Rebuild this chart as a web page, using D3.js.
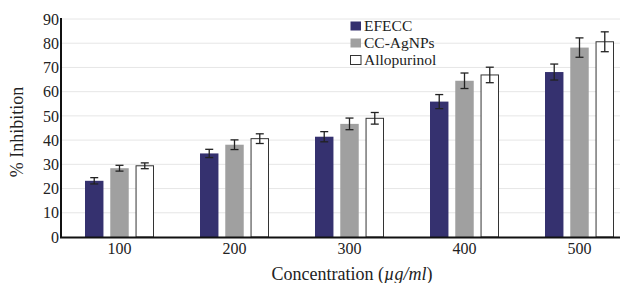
<!DOCTYPE html>
<html>
<head>
<meta charset="utf-8">
<script src="https://cdn.jsdelivr.net/npm/d3@7"></script>
<style>
  html, body { margin: 0; padding: 0; background: #fff; }
  svg { display: block; }
  svg text { fill: #222; }
</style>
</head>
<body>
<svg id="chart" width="622" height="283"></svg>
<script>
const categories = ["100", "200", "300", "400", "500"];
const seriesNames = ["EFECC", "CC-AgNPs", "Allopurinol"];
const efecc = [23.2, 34.5, 41.4, 55.9, 68.1];
const efeccErr = [1.3, 1.7, 2.1, 2.9, 3.3];
const ccAgNPs = [28.4, 38.1, 46.7, 64.5, 78.2];
const ccAgNPsErr = [1.2, 2.0, 2.4, 3.2, 4.0];
const allopurinol = [29.4, 40.6, 49.0, 66.9, 80.6];
const allopurinolErr = [1.2, 2.0, 2.4, 3.2, 4.1];
const yTicks = [0, 10, 20, 30, 40, 50, 60, 70, 80, 90];

const values = [efecc, ccAgNPs, allopurinol];
const errors = [efeccErr, ccAgNPsErr, allopurinolErr];
const fills = ["#35316f", "#a0a0a0", "#ffffff"];
const FONT = '"Liberation Serif", "Times New Roman", Tinos, "DejaVu Serif", serif';

const svg = d3.select("#chart").attr("font-family", FONT);
const x = d3.scaleBand().domain(categories).range([62, 637]).padding(0);
const xs = d3.scaleBand().domain(seriesNames).range([0, 69]).paddingInner(0.27).paddingOuter(0);
const y = d3.scaleLinear().domain([0, 90]).range([237, 19]);

// grid
svg.append("g").selectAll("line").data(yTicks.slice(1)).join("line")
  .attr("x1", 62).attr("x2", 620)
  .attr("y1", d => y(d)).attr("y2", d => y(d))
  .attr("stroke", "#e6e6e6").attr("stroke-width", 1);

// bars
const groups = svg.append("g").selectAll("g").data(categories).join("g")
  .attr("transform", d => `translate(${x(d) + x.bandwidth() / 2 - 34.5},0)`);

seriesNames.forEach((s, si) => {
  groups.append("rect")
    .attr("x", xs(s) + (si === 2 ? 0.5 : 0))
    .attr("width", xs.bandwidth() - (si === 2 ? 1 : 0))
    .attr("y", (d, i) => y(values[si][i]))
    .attr("height", (d, i) => y(0) - y(values[si][i]))
    .attr("fill", fills[si])
    .attr("stroke", si === 2 ? "#333" : "none")
    .attr("stroke-width", 1);
});

// error bars
seriesNames.forEach((s, si) => {
  const cx = xs(s) + xs.bandwidth() / 2;
  const eg = groups.append("g").attr("stroke", "#222").attr("stroke-width", 1.3);
  eg.append("line").attr("x1", cx).attr("x2", cx)
    .attr("y1", (d, i) => y(values[si][i] + errors[si][i]))
    .attr("y2", (d, i) => y(values[si][i] - errors[si][i]));
  eg.append("line").attr("x1", cx - 4).attr("x2", cx + 4)
    .attr("y1", (d, i) => y(values[si][i] + errors[si][i]))
    .attr("y2", (d, i) => y(values[si][i] + errors[si][i]));
  eg.append("line").attr("x1", cx - 4).attr("x2", cx + 4)
    .attr("y1", (d, i) => y(values[si][i] - errors[si][i]))
    .attr("y2", (d, i) => y(values[si][i] - errors[si][i]));
});

// axes
const yAxis = d3.axisLeft(y).tickValues(yTicks).tickSize(0).tickPadding(3);
const yg = svg.append("g").attr("transform", "translate(62,0)").call(yAxis);
yg.attr("font-family", FONT).attr("font-size", 16);
yg.select(".domain").remove();
yg.selectAll("text").attr("fill", "#222");

const xAxis = d3.axisBottom(x).tickSize(0).tickPadding(6);
const xg = svg.append("g").attr("transform", "translate(0,237)").call(xAxis);
xg.attr("font-family", FONT).attr("font-size", 16);
xg.select(".domain").remove();
xg.selectAll("text").attr("fill", "#222");

svg.append("line").attr("x1", 61).attr("x2", 61).attr("y1", 18).attr("y2", 238)
  .attr("stroke", "#111").attr("stroke-width", 2);
svg.append("line").attr("x1", 60).attr("x2", 620).attr("y1", 237.5).attr("y2", 237.5)
  .attr("stroke", "#111").attr("stroke-width", 2);

// axis titles
svg.append("text")
  .attr("transform", "translate(23,132) rotate(-90)")
  .attr("text-anchor", "middle")
  .attr("font-size", 18)
  .text("% Inhibition");

const xt = svg.append("text")
  .attr("x", 352).attr("y", 280)
  .attr("text-anchor", "middle")
  .attr("font-size", 18);
xt.append("tspan").text("Concentration (");
xt.append("tspan").style("font-style", "italic").text("\u00b5g/ml");
xt.append("tspan").text(")");

// legend
const lg = svg.append("g").attr("transform", "translate(350,21)");
seriesNames.forEach((s, i) => {
  const row = lg.append("g").attr("transform", `translate(0,${i * 17})`);
  row.append("rect").attr("x", 0.5).attr("y", 0.5).attr("width", 10.5).attr("height", 9)
    .attr("fill", fills[i]).attr("stroke", i === 2 ? "#333" : "none");
  row.append("text").attr("x", 14).attr("y", 10)
    .attr("font-size", 15.5).text(s);
});
</script>
</body>
</html>
